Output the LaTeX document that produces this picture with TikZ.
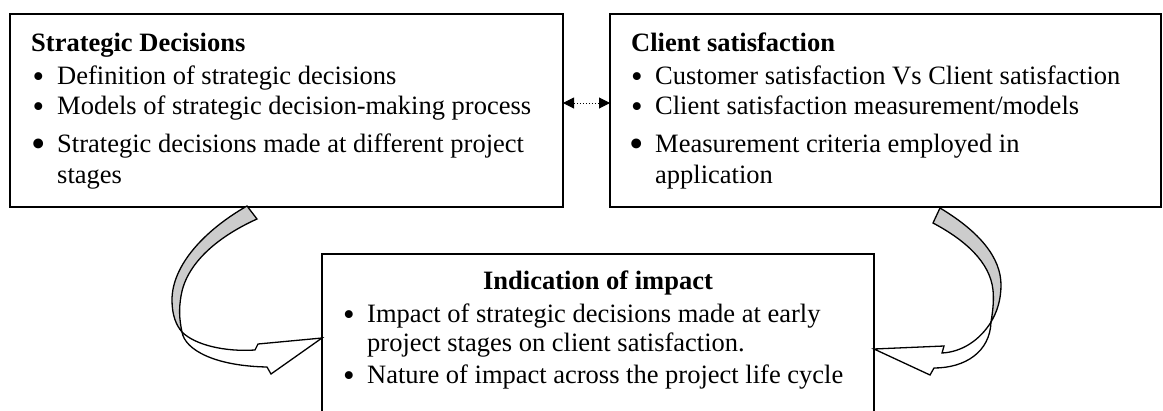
\documentclass[tikz,border=0pt]{standalone}
\usepackage{fontspec}
\setmainfont{Liberation Serif}
\usetikzlibrary{arrows.meta}
\begin{document}
\begin{tikzpicture}[x=1pt,y=-1pt,
  box/.style={draw, line width=1.5pt, fill=white, inner sep=0pt, outer sep=0pt, anchor=north west},
  txt/.style={anchor=base west, inner sep=0pt, font=\fontsize{26.5}{30}\selectfont},
  ttl/.style={anchor=base west, inner sep=0pt, font=\fontsize{26.5}{30}\selectfont\bfseries},
  bul/.style={anchor=base, inner sep=0pt, yshift=-3.5pt, font=\fontsize{33}{30}\selectfont},
  bigbul/.style={anchor=base, inner sep=0pt, yshift=-5.5pt, font=\fontsize{41}{30}\selectfont},
  ribbon/.style={draw, line width=1.3pt, line join=miter},
  link/.style={dotted, line width=1pt, >={Triangle[length=11pt,width=11pt]}, <->},
]
\clip (0,0) rectangle (1163,410);
\fill[white] (0,0) rectangle (1163,410);

% three boxes
\node[box, minimum width=553pt, minimum height=193pt] (sd) at (10,14) {};
\node[box, minimum width=551pt, minimum height=193pt] (cs) at (610,14) {};
\node[box, minimum width=552pt, minimum height=180pt] (ii) at (322,254) {};

% two-way link between the upper boxes
\draw[link] ([yshift=7.5pt]sd.east) -- ([yshift=7.5pt]cs.west);

% left box text
\node[ttl] (sdt) at (31,51) {Strategic Decisions};
\node[bul] (sdb1) at (38.5,84) {\textbullet};
\node[txt] (sd1) at (57,84) {Definition of strategic decisions};
\node[bul] (sdb2) at (38.5,114) {\textbullet};
\node[txt] (sd2) at (57,114) {Models of strategic decision-making process};
\node[bigbul] (sdb3) at (38.5,152) {\textbullet};
\node[txt] (sd3) at (57,152) {Strategic decisions made at different project};
\node[txt] (sd4) at (57,183) {stages};

% right box text
\node[ttl] (cst) at (631,51) {Client satisfaction};
\node[bul] (csb1) at (637,84) {\textbullet};
\node[txt] (cs1) at (655,84) {Customer satisfaction Vs Client satisfaction};
\node[bul] (csb2) at (637,114) {\textbullet};
\node[txt] (cs2) at (655,114) {Client satisfaction measurement/models};
\node[bigbul] (csb3) at (637,152) {\textbullet};
\node[txt] (cs3) at (655,152) {Measurement criteria employed in};
\node[txt] (cs4) at (655,183) {application};

% bottom box text
\node[ttl, anchor=base] (iit) at (598,289) {Indication of impact};
\node[bul] (iib1) at (349,322) {\textbullet};
\node[txt] (ii1) at (367,322) {Impact of strategic decisions made at early};
\node[txt] (ii2) at (367,351) {project stages on client satisfaction.};
\node[bul] (iib2) at (349,383) {\textbullet};
\node[txt] (ii3) at (367,383) {Nature of impact across the project life cycle};

% left curved block arrow: shaded back face, then white front face with head
\filldraw[ribbon, fill=gray!40] (247,206) .. controls (205,230) and (172,265) .. (172,300)
  .. controls (172,315) and (176,325) .. (182,332)
  .. controls (179,318) and (179,308) .. (181,296)
  .. controls (186,265) and (215,238) .. (257,219) -- cycle;
\filldraw[ribbon, fill=white] (182,332) .. controls (195,345) and (225,352) .. (255,350)
  -- (258,344) -- (322,338) -- (271,374) -- (267,367)
  .. controls (215,366) and (185,350) .. (182,332) -- cycle;

% right curved block arrow
\filldraw[ribbon, fill=gray!40] (940,208) .. controls (980,232) and (1001,258) .. (1001,285)
  .. controls (1001,300) and (997,312) .. (991,322)
  .. controls (993,310) and (994,300) .. (993,290)
  .. controls (990,262) and (965,240) .. (933,223) -- cycle;
\filldraw[ribbon, fill=white] (991,322) .. controls (980,340) and (962,352) .. (942,353)
  -- (944,346) -- (874,349) -- (930,375) -- (934,368)
  .. controls (965,368) and (990,352) .. (991,322) -- cycle;
\end{tikzpicture}
\end{document}
